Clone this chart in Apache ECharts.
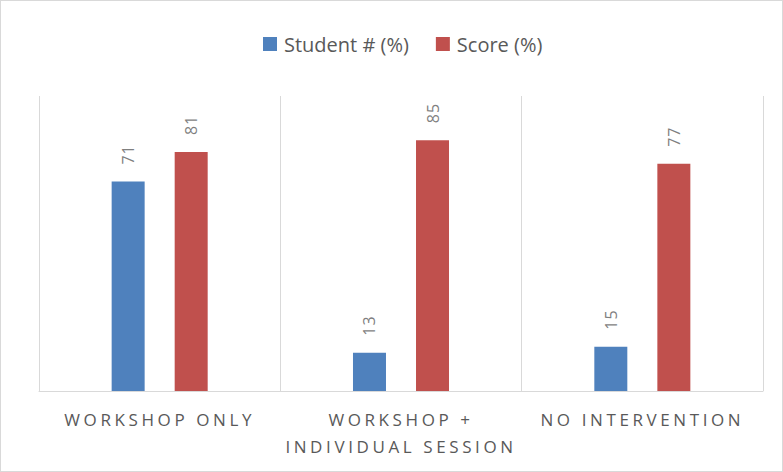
<!DOCTYPE html>
<html><head><meta charset="utf-8">
<script src="https://cdn.jsdelivr.net/npm/echarts@6/dist/echarts.min.js"></script>
<style>html,body{margin:0;padding:0;background:#fff}#c{width:783px;height:472px;box-sizing:border-box;border:1px solid #d9d9d9}</style>
</head><body><div id="c"></div>
<script>
const categories = ['WORKSHOP ONLY', 'WORKSHOP +\nINDIVIDUAL SESSION', 'NO INTERVENTION'];
const seriesNames = ['Student # (%)', 'Score (%)'];
const studentPct = [71, 13, 15];
const scorePct = [81, 85, 77];

const chart = echarts.init(document.getElementById('c'), null, { renderer: 'svg' });
const font = '"Open Sans", "Liberation Sans", sans-serif';
const labelCfg = {
  show: true, position: 'top', rotate: 90, align: 'left', verticalAlign: 'middle',
  distance: 17, color: '#7f7f7f', fontSize: 16, fontFamily: font
};
chart.setOption({
  animation: false,
  legend: {
    top: 28, left: 257, itemWidth: 14, itemHeight: 14, itemGap: 27,
    icon: 'rect',
    textStyle: { color: '#595959', fontSize: 20, fontFamily: font, padding: [0, 0, 0, 2] }
  },
  grid: { left: 38, right: 19, top: 95, bottom: 80 },
  xAxis: {
    type: 'category', data: categories,
    axisLine: { lineStyle: { color: '#d9d9d9', width: 1 } },
    axisTick: { show: false },
    splitLine: { show: true, lineStyle: { color: '#d9d9d9', width: 1 } },
    axisLabel: { color: '#595959', fontSize: 17, fontFamily: font, margin: 15, lineHeight: 27, interval: 0 }
  },
  yAxis: { type: 'value', min: 0, max: 100, show: false, splitLine: { show: false } },
  series: [
    { name: seriesNames[0], type: 'bar', data: studentPct, barWidth: 33, barGap: '91%',
      itemStyle: { color: '#4f81bd' }, label: labelCfg },
    { name: seriesNames[1], type: 'bar', data: scorePct, barWidth: 33,
      itemStyle: { color: '#c0504d' }, label: labelCfg }
  ]
});

// letter spacing like the original axis labels
const catLines = new Set(categories.join('\n').split('\n'));
document.querySelectorAll('#c svg text').forEach(t => {
  const s = t.textContent.trim();
  if (catLines.has(s)) t.style.letterSpacing = '3.6px';
  else if (/^\d+$/.test(s)) t.style.letterSpacing = '1px';
});
</script></body></html>
